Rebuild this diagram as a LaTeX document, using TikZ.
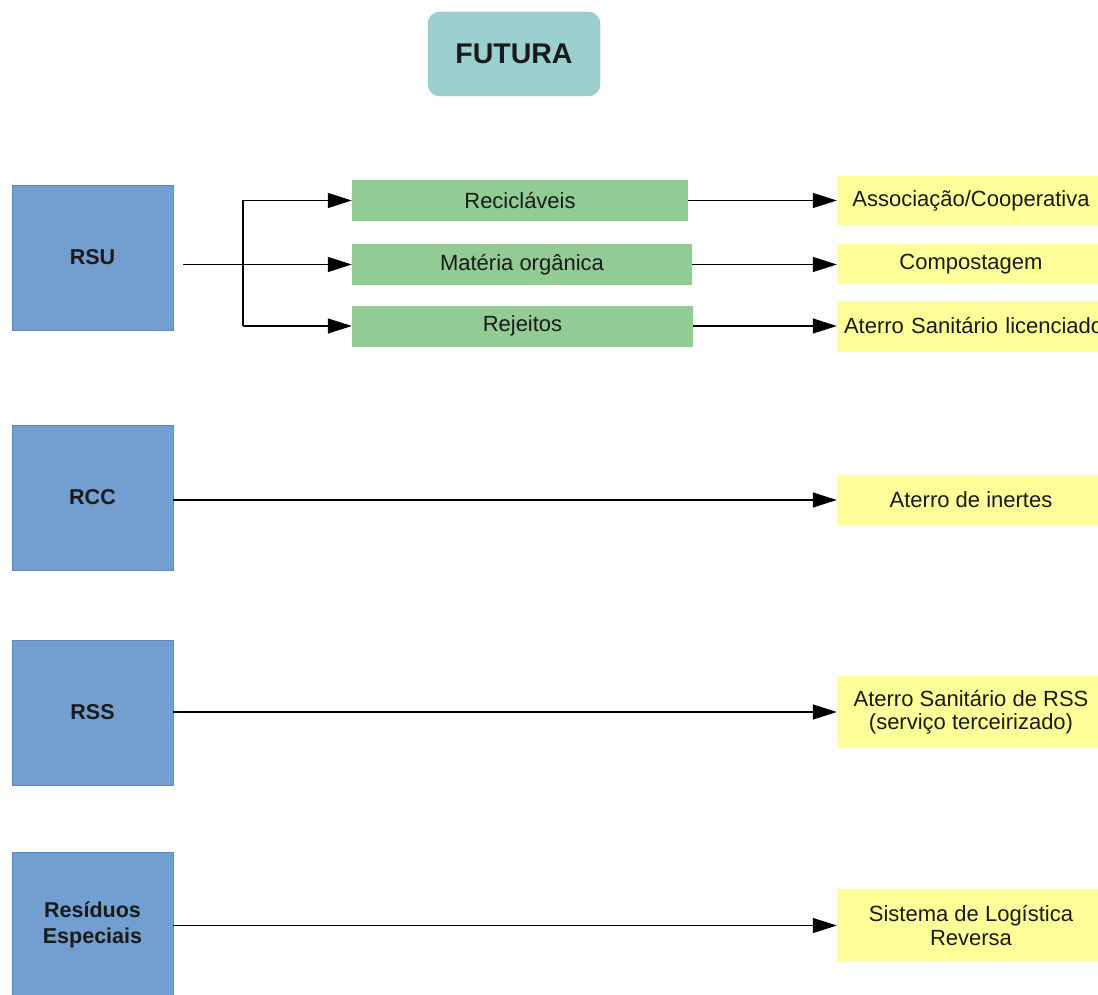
\documentclass[tikz,border=0pt]{standalone}
\usepackage{fontspec}
\setmainfont{Liberation Sans}
\usetikzlibrary{arrows.meta}
\definecolor{tealfill}{HTML}{9CCFCF}
\definecolor{bluefill}{HTML}{729FCF}
\definecolor{blueline}{HTML}{5F8BBB}
\definecolor{greenfill}{HTML}{93CC93}
\definecolor{yellowfill}{HTML}{FFFF99}
\definecolor{txt}{HTML}{1A1A1A}
\tikzset{
  titlebox/.style={draw=tealfill!90!black, fill=tealfill, rounded corners=12pt, minimum width=172pt, minimum height=84pt, inner sep=0pt, font=\fontsize{28.5}{32}\selectfont\bfseries},
  srcbox/.style={draw=blueline, fill=bluefill, minimum width=161pt, minimum height=145pt, inner sep=0pt, align=center, font=\fontsize{21.5}{26}\selectfont\bfseries},
  midbox/.style={fill=greenfill, minimum height=41pt, inner sep=0pt, font=\fontsize{22}{24}\selectfont},
  dstbox/.style={fill=yellowfill, minimum width=268pt, inner sep=0pt, align=center, font=\fontsize{22}{23.5}\selectfont},
  arr/.style={line width=1.2pt, -{Triangle[length=24pt,width=15pt]}},
  ln/.style={line width=1.2pt}
}
\begin{document}
\begin{tikzpicture}[x=1pt,y=-1pt,text=txt]
\useasboundingbox (0,0) rectangle (1098,995);
\node[titlebox] (fut) at (514,54) {FUTURA};
% sources
\node[srcbox] (rsu) at (92.5,257.5) {RSU};
\node[srcbox] (rcc) at (92.5,497.5) {RCC};
\node[srcbox] (rss) at (92.5,712.5) {RSS};
\node[srcbox] (res) at (92.5,925) {Resíduos\\Especiais};
% middle
\node[midbox, minimum width=336pt] (rec) at (520,200.5) {Recicláveis};
\node[midbox, minimum width=340pt] (mat) at (522,264.5) {Matéria orgânica};
\node[midbox, minimum width=341pt] (rej) at (522.5,326) {Rejeitos};
% destinations
\node[dstbox, minimum height=49pt] (ass) at (971,201) {Associação/Cooperativa};
\node[dstbox, minimum height=40pt] (com) at (971,264) {Compostagem};
\node[dstbox, minimum height=51pt, text width=268pt] (ate) at (971,326) {\hspace*{7pt}Aterro Sanitário licenciado\hfill\null};
\node[dstbox, minimum height=50pt] (ine) at (971,500) {Aterro de inertes};
\node[dstbox, minimum height=72pt] (srs) at (971,712) {Aterro Sanitário de RSS\\(serviço terceirizado)};
\node[dstbox, minimum height=73pt] (slr) at (971,925.5) {Sistema de Logística\\Reversa};
% RSU split
\coordinate (rsuout) at (183,264.5);
\coordinate (j) at (243,264.5);
\coordinate (jt) at (243,200.5);
\coordinate (jb) at (243,326);
\draw[ln] (rsuout) -- (j);
\draw[ln] (jt) -- (jb);
\draw[arr] (jt) -- (rec.west);
\draw[arr] (j) -- (mat.west);
\draw[arr] (jb) -- (rej.west);
\draw[arr] (rec.east) -- (ass.west |- rec.east);
\draw[arr] (mat.east) -- (com.west |- mat.east);
\draw[arr] (rej.east) -- (ate.west |- rej.east);
\draw[arr] (rcc.east |- ine.west) -- (ine.west);
\draw[arr] (rss.east |- srs.west) -- (srs.west);
\draw[arr] (res.east |- slr.west) -- (slr.west);
\end{tikzpicture}
\end{document}
